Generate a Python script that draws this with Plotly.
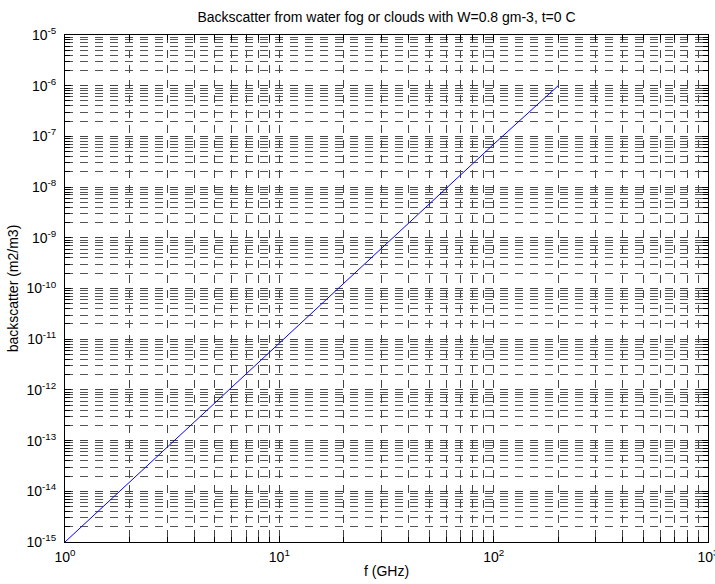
import plotly.graph_objects as go

freq_ghz = [1, 10, 100, 200]
backscatter = [1e-15, 8.5e-12, 7.0e-8, 1.0e-6]

x_tickvals = [1, 10, 100, 1000]
x_ticktext = ["10<sup>0</sup>", "10<sup>1</sup>", "10<sup>2</sup>", "10<sup>3</sup>"]
y_exps = list(range(-15, -4))
y_tickvals = [10.0 ** e for e in y_exps]
y_ticktext = ["10<sup>%d</sup>" % e for e in y_exps]

title_text = "Backscatter from water fog or clouds with W=0.8 gm-3, t=0 C"

fig = go.Figure()
fig.add_trace(go.Scatter(x=freq_ghz, y=backscatter, mode="lines",
                         line=dict(color="#0000ff", width=1), showlegend=False))

tick_font = dict(family="Liberation Sans, Arial, sans-serif", size=14, color="black")
label_font = dict(family="Liberation Sans, Arial, sans-serif", size=14, color="black")

axis_common = dict(
    type="log", showline=True, linecolor="black", linewidth=1, mirror="ticks",
    ticks="inside", ticklen=6, tickcolor="black", tickwidth=1,
    showgrid=True, gridcolor="#444444", gridwidth=1, griddash="8px,7px",
    zeroline=False, tickfont=tick_font, automargin=False,
)

fig.update_xaxes(
    **axis_common, range=[0, 3], tickvals=x_tickvals, ticktext=x_ticktext,
    ticklabeloverflow="allow", ticklabelstandoff=2,
    minor=dict(dtick="D1", showgrid=True, gridcolor="#444444", gridwidth=1,
               griddash="8px,7px", ticks="inside", ticklen=5, tickcolor="black"),
    title=dict(text="f (GHz)", font=label_font, standoff=2),
)
fig.update_yaxes(
    **axis_common, range=[-15, -5], tickvals=y_tickvals, ticktext=y_ticktext,
    ticklabelstandoff=5,
    minor=dict(dtick="D1", showgrid=True, gridcolor="#555555", gridwidth=1,
               griddash="8px,7px", ticks="inside", ticklen=5, tickcolor="black"),
    title=dict(text="backscatter (m2/m3)", font=label_font, standoff=4),
)

fig.update_layout(
    width=715, height=584,
    margin=dict(l=65, r=7, t=35, b=42),
    paper_bgcolor="white", plot_bgcolor="white",
    title=dict(text=title_text, font=label_font, x=0.5405, xanchor="center", y=0.97, yanchor="middle"),
    font=tick_font,
)

fig.write_html("out.html")
